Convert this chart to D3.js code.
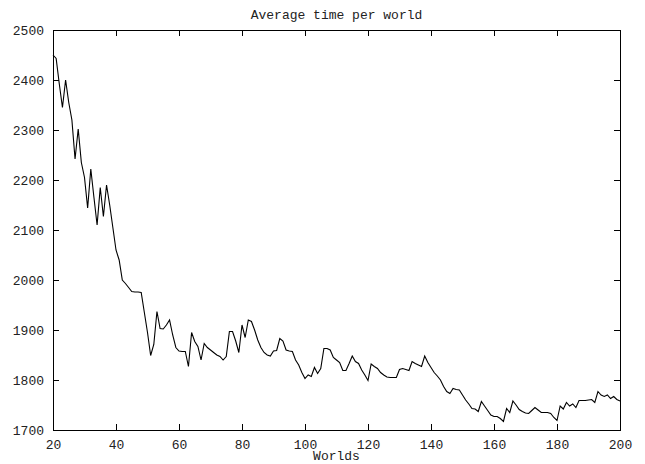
<!DOCTYPE html>
<html>
<head>
<meta charset="utf-8">
<script src="https://cdn.jsdelivr.net/npm/d3@7"></script>
<style>
  body { margin: 0; background: #fff; }
  text { font-family: "Liberation Mono", "DejaVu Sans Mono", monospace; font-size: 13px; fill: #222; }
</style>
</head>
<body>
<div id="chart"></div>
<script>
// average time per world, one value per world from 20 to 200
var firstWorld = 20;
var avgTime = [
  2450, 2443, 2392, 2345, 2400, 2355, 2320, 2242, 2302, 2235,
  2205, 2144, 2222, 2165, 2110, 2185, 2127, 2190, 2150, 2105,
  2060, 2040, 2000, 1993, 1985, 1977, 1976, 1976, 1975, 1935,
  1895, 1849, 1871, 1937, 1903, 1902, 1910, 1920, 1890, 1865,
  1858, 1857, 1857, 1827, 1895, 1877, 1867, 1840, 1873, 1865,
  1860, 1855, 1850, 1847, 1840, 1847, 1897, 1897, 1878, 1855,
  1910, 1885, 1920, 1917, 1900, 1880, 1865, 1855, 1850, 1848,
  1858, 1859, 1883, 1878, 1860, 1858, 1857, 1840, 1830, 1815,
  1803, 1810, 1807, 1825, 1813, 1823, 1863, 1863, 1860, 1845,
  1840, 1835, 1819, 1819, 1833, 1848, 1837, 1833, 1820, 1810,
  1799, 1832, 1827, 1823, 1815, 1810, 1806, 1805, 1805, 1805,
  1821, 1823, 1821, 1819, 1837, 1833, 1830, 1827, 1848, 1835,
  1825, 1815, 1808, 1800, 1787, 1777, 1773, 1783, 1781, 1780,
  1770, 1760, 1752, 1743, 1742, 1737, 1757, 1748, 1739, 1730,
  1727, 1727, 1723, 1717, 1743, 1735, 1758, 1750, 1741, 1737,
  1734, 1733, 1739, 1745, 1740, 1735, 1735, 1735, 1733, 1725,
  1719, 1748, 1742, 1755, 1748, 1752, 1745, 1759, 1759, 1759,
  1760, 1761, 1755, 1777, 1770, 1767, 1770, 1763, 1767, 1761,
  1758
];
var xTicks = [20, 40, 60, 80, 100, 120, 140, 160, 180, 200];
var yTicks = [1700, 1800, 1900, 2000, 2100, 2200, 2300, 2400, 2500];

var width = 645, height = 464;
var margin = {top: 30, right: 25, bottom: 34, left: 53};
var w = width - margin.left - margin.right;
var h = height - margin.top - margin.bottom;

var data = avgTime.map(function (v, i) {
  return {world: firstWorld + i, value: v};
});

var svg = d3.select('#chart')
  .append('svg')
  .attr('width', width)
  .attr('height', height);

var g = svg.append('g')
  .attr('transform', 'translate(' + margin.left + ',' + margin.top + ')');

var x = d3.scaleLinear().domain([20, 200]).range([0, w]);
var y = d3.scaleLinear().domain([1700, 2500]).range([h, 0]);

// axes: labels outside, ticks pointing inward on all four sides
var axisBottom = g.append('g')
  .attr('transform', 'translate(0,' + h + ')')
  .call(d3.axisBottom(x).tickValues(xTicks).tickSize(-6).tickPadding(10).tickFormat(d3.format('d')));
var axisLeft = g.append('g')
  .call(d3.axisLeft(y).tickValues(yTicks).tickSize(-6).tickPadding(9).tickFormat(d3.format('d')));
var axisTop = g.append('g')
  .call(d3.axisTop(x).tickValues(xTicks).tickSize(-6).tickFormat(''));
var axisRight = g.append('g')
  .attr('transform', 'translate(' + w + ',0)')
  .call(d3.axisRight(y).tickValues(yTicks).tickSize(-6).tickFormat(''));

[axisBottom, axisLeft, axisTop, axisRight].forEach(function (a) {
  a.selectAll('.domain').attr('stroke', '#000').attr('shape-rendering', 'crispEdges');
  a.selectAll('.tick line').attr('stroke', '#000').attr('shape-rendering', 'crispEdges');
  a.attr('font-family', null).attr('font-size', null);
});

var line = d3.line()
  .x(function (d) { return x(d.world); })
  .y(function (d) { return y(d.value); });

g.append('path')
  .datum(data)
  .attr('fill', 'none')
  .attr('stroke', '#000')
  .attr('stroke-width', 1.1)
  .attr('d', line);

svg.append('text')
  .attr('x', margin.left + w / 2)
  .attr('y', 19)
  .attr('text-anchor', 'middle')
  .text('Average time per world');

svg.append('text')
  .attr('x', margin.left + w / 2)
  .attr('y', 460)
  .attr('text-anchor', 'middle')
  .text('Worlds');
</script>
</body>
</html>
